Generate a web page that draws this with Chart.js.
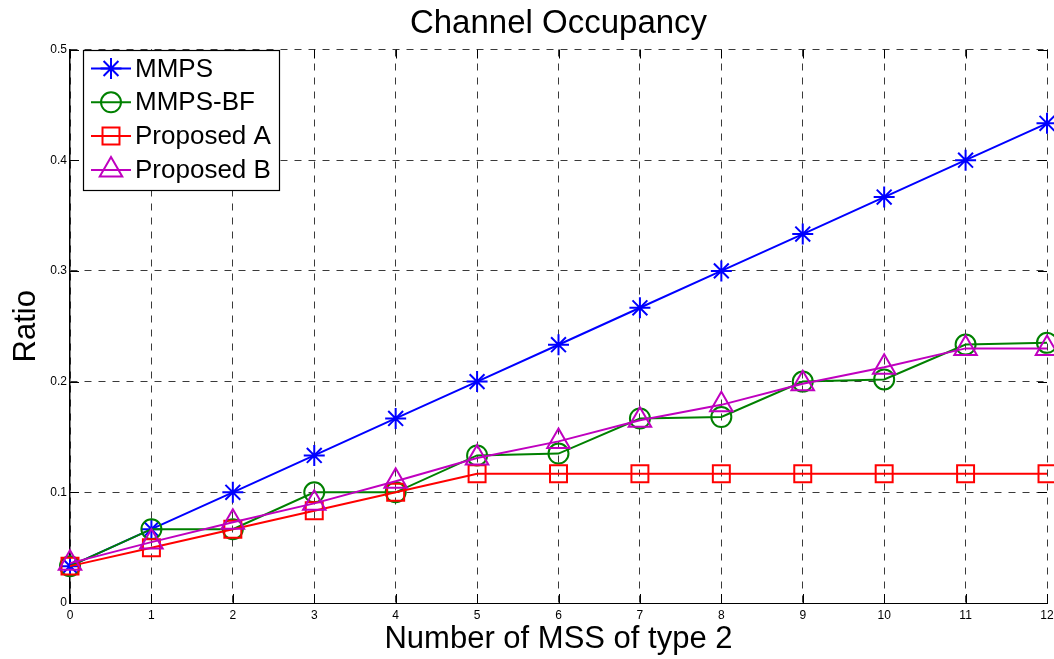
<!DOCTYPE html>
<html>
<head>
<meta charset="utf-8">
<title>Channel Occupancy</title>
<script src="https://cdn.jsdelivr.net/npm/chart.js@4/dist/chart.umd.min.js"></script>
<style>
  html, body { margin: 0; padding: 0; background: #fff; }
  #wrap { width: 1054px; height: 659px; position: relative; }
</style>
</head>
<body>
<div id="wrap"><canvas id="chart"></canvas></div>
<script>
// Number of MSS of type 2 (x values)
const mssCount = [0, 1, 2, 3, 4, 5, 6, 7, 8, 9, 10, 11, 12];

// Channel occupancy ratio for each scheme
const mmps      = [0.0333, 0.0667, 0.1000, 0.1333, 0.1667, 0.2000, 0.2333, 0.2667, 0.3000, 0.3333, 0.3667, 0.4000, 0.4333];
const mmpsBf    = [0.0333, 0.0667, 0.0667, 0.1000, 0.1000, 0.1333, 0.1350, 0.1667, 0.1680, 0.2000, 0.2020, 0.2335, 0.2350];
const proposedA = [0.0333, 0.0500, 0.0667, 0.0833, 0.1000, 0.1167, 0.1167, 0.1167, 0.1167, 0.1167, 0.1167, 0.1167, 0.1167];
const proposedB = [0.0360, 0.0550, 0.0730, 0.0900, 0.1100, 0.1310, 0.1460, 0.1650, 0.1790, 0.1980, 0.2130, 0.2300, 0.2300];

// Axis ticks
const xTickValues = [0, 1, 2, 3, 4, 5, 6, 7, 8, 9, 10, 11, 12];
const xTickLabels = ['0', '1', '2', '3', '4', '5', '6', '7', '8', '9', '10', '11', '12'];
const yTickValues = [0, 0.1, 0.2, 0.3, 0.4, 0.5];
const yTickLabels = ['0', '0.1', '0.2', '0.3', '0.4', '0.5'];

const chartTitle = 'Channel Occupancy';

const FONT = '"Liberation Sans", Arial, Helvetica, sans-serif';

const toPoints = (ys) => ys.map((y, i) => ({ x: mssCount[i], y }));

function series(label, values, color, pointStyle, radius, order) {
  return {
    label,
    data: toPoints(values),
    borderColor: color,
    backgroundColor: 'rgba(0,0,0,0)',
    pointBorderColor: color,
    pointBackgroundColor: 'rgba(0,0,0,0)',
    pointStyle,
    pointRadius: radius,
    pointHoverRadius: radius,
    pointBorderWidth: 2,
    borderWidth: 2,
    tension: 0,
    clip: false,
    order
  };
}

const datasets = [
  series('MMPS',       mmps,      '#0000ff', 'star',     10.5, 4),
  series('MMPS-BF',    mmpsBf,    '#008000', 'circle',   10,   3),
  series('Proposed A', proposedA, '#ff0000', 'rect',     12,   2),
  series('Proposed B', proposedB, '#bf00bf', 'triangle', 13,   1)
];

// Title centred over the plotting area
const plotTitle = {
  id: 'plotTitle',
  afterDraw(chart) {
    const { ctx, chartArea: a } = chart;
    ctx.save();
    ctx.fillStyle = '#000';
    ctx.font = '33px ' + FONT;
    ctx.textAlign = 'center';
    ctx.textBaseline = 'alphabetic';
    ctx.fillText(chartTitle, (a.left + a.right) / 2, 33);
    ctx.restore();
  }
};

// Inward tick marks on all four sides of the axes box
const boxTicks = {
  id: 'boxTicks',
  afterDatasetsDraw(chart) {
    const { ctx, chartArea: a, scales: { x, y } } = chart;
    const len = 9;
    ctx.save();
    ctx.strokeStyle = '#000';
    ctx.lineWidth = 1;
    ctx.beginPath();
    xTickValues.forEach(v => {
      const px = Math.round(x.getPixelForValue(v)) + 0.5;
      ctx.moveTo(px, a.bottom); ctx.lineTo(px, a.bottom - len);
      ctx.moveTo(px, a.top);    ctx.lineTo(px, a.top + len);
    });
    yTickValues.forEach(v => {
      const py = Math.round(y.getPixelForValue(v)) + 0.5;
      ctx.moveTo(a.left, py);  ctx.lineTo(a.left + len, py);
      ctx.moveTo(a.right, py); ctx.lineTo(a.right - len, py);
    });
    ctx.stroke();
    ctx.restore();
  }
};

// Boxed legend in the upper-left corner of the plot
const boxLegend = {
  id: 'boxLegend',
  afterDraw(chart) {
    const { ctx, chartArea: a } = chart;
    const left = a.left + 13, top = a.top + 0.5;
    const w = 196, rowH = 33.8, h = 140;
    ctx.save();
    ctx.fillStyle = '#fff';
    ctx.fillRect(left, top, w, h);
    ctx.strokeStyle = '#000';
    ctx.lineWidth = 1.2;
    ctx.strokeRect(left + 0.5, top + 0.5, w, h);
    ctx.font = '26px ' + FONT;
    ctx.textBaseline = 'middle';
    ctx.textAlign = 'left';
    chart.data.datasets.forEach((ds, i) => {
      const cy = top + 18.5 + i * rowH;
      const x0 = left + 8, x1 = left + 48, cx = (x0 + x1) / 2;
      ctx.strokeStyle = ds.borderColor;
      ctx.lineWidth = 2;
      ctx.beginPath();
      ctx.moveTo(x0, cy); ctx.lineTo(x1, cy);
      ctx.stroke();
      ctx.fillStyle = 'rgba(0,0,0,0)';
      Chart.helpers.drawPoint(ctx, {
        pointStyle: ds.pointStyle, radius: ds.pointRadius, rotation: 0, borderWidth: 2
      }, cx, cy);
      ctx.fillStyle = '#000';
      ctx.fillText(ds.label, left + 52, cy + 1);
    });
    ctx.restore();
  }
};

Chart.defaults.color = '#000';
Chart.defaults.font.family = FONT;

new Chart(document.getElementById('chart'), {
  type: 'line',
  data: { datasets },
  plugins: [plotTitle, boxTicks, boxLegend],
  options: {
    responsive: true,
    maintainAspectRatio: false,
    animation: false,
    events: [],
    layout: { autoPadding: false, padding: { left: 0, right: 0, top: 49.5, bottom: 0 } },
    plugins: {
      legend: { display: false },
      tooltip: { enabled: false },
      title: { display: false }
    },
    scales: {
      x: {
        type: 'linear',
        min: 0, max: 12,
        afterBuildTicks(scale) { scale.ticks = xTickValues.map(v => ({ value: v })); },
        afterFit(scale) {
          scale.height = 56;
          scale.paddingLeft = 0;
          scale.paddingRight = 7;
        },
        ticks: {
          autoSkip: false, maxRotation: 0, padding: 5,
          font: { size: 12 },
          callback: (v) => xTickLabels[xTickValues.indexOf(v)]
        },
        grid: { color: '#3a3a3a', lineWidth: 1, drawTicks: false },
        border: { display: true, color: '#000', width: 1, dash: [7, 7] },
        title: {
          display: true,
          text: 'Number of MSS of type 2',
          font: { size: 31, family: FONT },
          padding: { top: 0, bottom: 1 }
        }
      },
      y: {
        type: 'linear',
        min: 0, max: 0.5,
        afterBuildTicks(scale) { scale.ticks = yTickValues.map(v => ({ value: v })); },
        afterFit(scale) { scale.width = 70; },
        ticks: {
          padding: 3,
          font: { size: 12 },
          callback: (v) => yTickLabels[yTickValues.findIndex(t => Math.abs(t - v) < 1e-9)]
        },
        grid: { color: '#3a3a3a', lineWidth: 1, drawTicks: false },
        border: { display: true, color: '#000', width: 1.5, dash: [7, 7] },
        title: {
          display: true,
          text: 'Ratio',
          font: { size: 31, family: FONT },
          padding: { top: 8, bottom: 0 }
        }
      }
    }
  }
});
</script>
</body>
</html>
